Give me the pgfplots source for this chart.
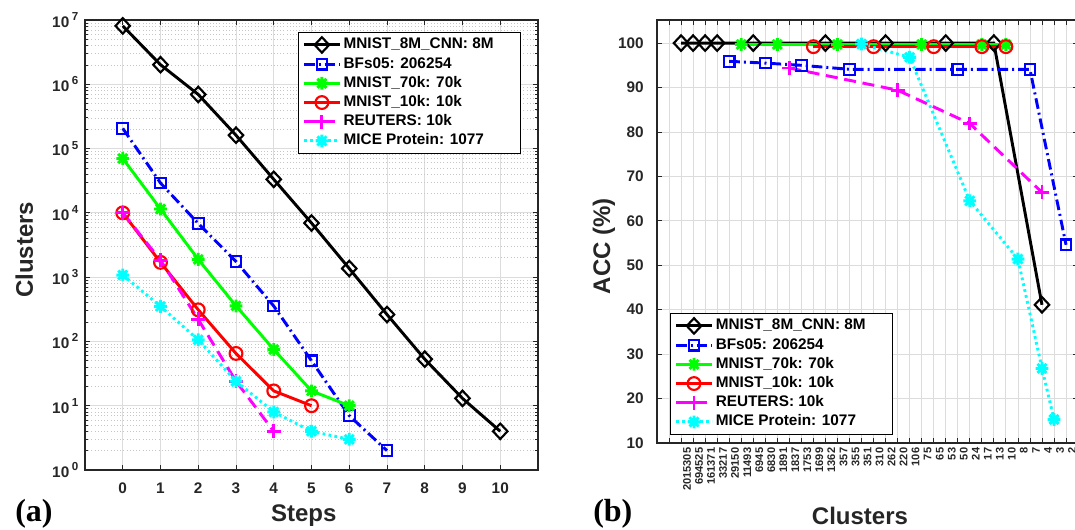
\documentclass[border=0pt]{standalone}
\usepackage{fontspec}
\setmainfont{Liberation Sans}
\newfontfamily\serifb{Liberation Serif}
\usepackage{pgfplots}
\pgfplotsset{compat=1.18}
\definecolor{axgray}{HTML}{262626}
\definecolor{gridc}{HTML}{DCDCDC}
\definecolor{mblue}{rgb}{0,0,1}
\definecolor{mgreen}{rgb}{0,1,0}
\definecolor{mred}{rgb}{1,0,0}
\definecolor{mmag}{rgb}{1,0,1}
\definecolor{mcyan}{rgb}{0,1,1}
\newcommand\tenp[1]{10\,\raisebox{0.45em}{\fontsize{8.7}{9}\selectfont #1}}

\pgfdeclareplotmark{ast8}{%
  \pgfpathmoveto{\pgfpointpolar{0}{\pgfplotmarksize}}\pgfpathlineto{\pgfpointpolar{180}{\pgfplotmarksize}}%
  \pgfpathmoveto{\pgfpointpolar{45}{\pgfplotmarksize}}\pgfpathlineto{\pgfpointpolar{225}{\pgfplotmarksize}}%
  \pgfpathmoveto{\pgfpointpolar{90}{\pgfplotmarksize}}\pgfpathlineto{\pgfpointpolar{270}{\pgfplotmarksize}}%
  \pgfpathmoveto{\pgfpointpolar{135}{\pgfplotmarksize}}\pgfpathlineto{\pgfpointpolar{315}{\pgfplotmarksize}}%
  \pgfusepathqstroke}

\pgfplotsset{
  mystyle/.style={
    scale only axis,
    axis line style={axgray, line width=0.8pt},
    tick style={axgray, line width=0.6pt},
    major tick length=3.5pt,
    minor tick length=2pt,
    every tick label/.append style={font=\fontsize{11.5}{12}\selectfont\bfseries, text=axgray},
    /pgf/number format/assume math mode=true,
    label style={font=\fontsize{18}{20}\selectfont\bfseries, text=axgray},
    legend style={font=\fontsize{11.5}{12}\selectfont\bfseries, draw=black, line width=0.8pt,
      inner xsep=3pt, inner ysep=2pt, row sep=0pt, cells={anchor=west},
      nodes={inner sep=1.7pt, text height=8.5pt, text depth=2.5pt}},
    legend image code/.code={\draw[mark repeat=2,mark phase=2,##1] plot coordinates {(0pt,0pt)(13.5pt,0pt)(27pt,0pt)};},
    major grid style={gridc, line width=0.6pt},
    minor grid style={gray!45, dotted, line width=0.5pt},
  },
  s1/.style={black, solid, line width=2.2pt, mark=diamond, mark size=5.8pt, mark options={solid, line width=1.6pt, xscale=1.25}},
  s2/.style={mblue, line width=2.2pt, dash pattern=on 8pt off 3pt on 1.5pt off 3pt, mark=square, mark size=4pt, mark options={solid, line width=1.6pt}},
  s3/.style={mgreen, solid, line width=2.2pt, mark=ast8, mark size=4.8pt, mark options={solid, line width=2.2pt}},
  s4/.style={mred, solid, line width=2.2pt, mark=o, mark size=4.8pt, mark options={solid, line width=1.6pt}},
  s5/.style={mmag, line width=2.2pt, dash pattern=on 9pt off 5pt, mark=+, mark size=5.2pt, mark options={solid, line width=2.2pt}},
  s6/.style={mcyan, line width=2.2pt, dash pattern=on 2pt off 2.5pt, mark=ast8, mark size=4.8pt, mark options={solid, line width=2.2pt}},
}

\begin{document}
\begin{tikzpicture}
\useasboundingbox (0,0) rectangle (806.25pt,396.75pt);
\clip (0,0) rectangle (806.25pt,396.75pt);

% ---------------- panel (a)
\begin{axis}[mystyle,
  at={(63.75pt,44.25pt)}, anchor=south west,
  width=339.75pt, height=337.5pt,
  xmin=-1, xmax=11,
  ymode=log, ymin=1, ymax=1e7,
  xtick={0,...,10},
  ytick={1,10,100,1000,10000,100000,1000000,10000000},
  yticklabels={\tenp{0},\tenp{1},\tenp{2},\tenp{3},\tenp{4},\tenp{5},\tenp{6},\tenp{7}},
  xticklabel style={yshift=-6pt},
  yticklabel style={xshift=-1.5pt},
  xmajorgrids, ymajorgrids, yminorgrids,
  xlabel={Steps}, ylabel={Clusters},
  xlabel style={at={(axis description cs:0.483,-0.115)}, anchor=base},
  ylabel style={at={(axis description cs:-0.1148,0.489)}, anchor=base},
  legend style={at={(axis description cs:0.470,0.973)}, anchor=north west},
]
\addplot[s1] coordinates {(0,8100000)(1,2015305)(2,694525)(3,161371)(4,33217)(5,6945)(6,1362)(7,262)(8,53)(9,13)(10,4)};
\addlegendentry{\makebox[128pt][l]{MNIST\_8M\_CNN: 8M}}
\addplot[s2] coordinates {(0,206254)(1,29150)(2,6830)(3,1753)(4,355)(5,50)(6,7)(7,2)};
\addlegendentry{BFs05: 206254}
\addplot[s3] coordinates {(0,70000)(1,11493)(2,1891)(3,357)(4,75)(5,17)(6,10)};
\addlegendentry{MNIST\_70k: 70k}
\addplot[s4] coordinates {(0,10000)(1,1699)(2,310)(3,65)(4,17)(5,10)};
\addlegendentry{MNIST\_10k: 10k}
\addplot[s5] coordinates {(0,10000)(1,1837)(2,220)(3,24)(4,4)};
\addlegendentry{REUTERS: 10k}
\addplot[s6] coordinates {(0,1077)(1,351)(2,106)(3,24)(4,8)(5,4)(6,3)};
\addlegendentry{MICE Protein: 1077}
\end{axis}

% ---------------- panel (b)
\begin{axis}[mystyle,
  at={(492.75pt,64.5pt)}, anchor=south west,
  width=315.8pt, height=317.25pt,
  xmin=-1, xmax=34,
  ymin=10, ymax=105.2,
  xtick={0,...,34},
  xticklabels={,2015305,694525,161371,33217,29150,11493,6945,6830,1891,1837,1753,1699,1362,357,355,351,310,262,220,106,75,65,53,50,24,17,13,10,8,7,4,3,2,},
  ytick={10,20,...,100},
  xticklabel style={rotate=90, anchor=east, yshift=-4.5pt, font=\fontsize{8.3}{8.5}\selectfont\bfseries},
  yticklabel style={xshift=-6.5pt},
  xmajorgrids, ymajorgrids,
  xlabel={Clusters}, ylabel={ACC (\%)},
  xlabel style={at={(axis description cs:0.482,-0.192)}, anchor=base},
  ylabel style={at={(axis description cs:-0.1116,0.465)}, anchor=base},
  legend style={at={(axis description cs:0.0309,0.307)}, anchor=north west},
]
\addplot[s1] coordinates {(1,100)(2,100)(3,100)(4,100)(7,100)(13,100)(18,100)(23,100)(27,100)(31,41.1)};
\addlegendentry{\makebox[128pt][l]{MNIST\_8M\_CNN: 8M}}
\addplot[s2] coordinates {(5,95.9)(8,95.5)(11,95.0)(15,94.1)(24,94.1)(30,94.1)(33,54.6)};
\addlegendentry{BFs05: 206254}
\addplot[s3] coordinates {(6,99.7)(9,99.7)(14,99.7)(21,99.7)(26,99.7)(28,99.7)};
\addlegendentry{MNIST\_70k: 70k}
\addplot[s4] coordinates {(12,99.2)(17,99.2)(22,99.2)(26,99.2)(28,99.2)};
\addlegendentry{MNIST\_10k: 10k}
\addplot[s5] coordinates {(10,94.4)(19,89.4)(25,81.9)(31,66.4)};
\addlegendentry{REUTERS: 10k}
\addplot[s6] coordinates {(16,99.8)(20,96.8)(25,64.5)(29,51.4)(31,26.8)(32,15.3)};
\addlegendentry{MICE Protein: 1077}
\end{axis}

\node[anchor=base west, inner sep=0pt, font=\serifb\fontsize{24}{26}\selectfont\bfseries] at (11.25pt,6pt) {(a)};
\node[anchor=base west, inner sep=0pt, font=\serifb\fontsize{24}{26}\selectfont\bfseries] at (444.75pt,6pt) {(b)};
\end{tikzpicture}
\end{document}
